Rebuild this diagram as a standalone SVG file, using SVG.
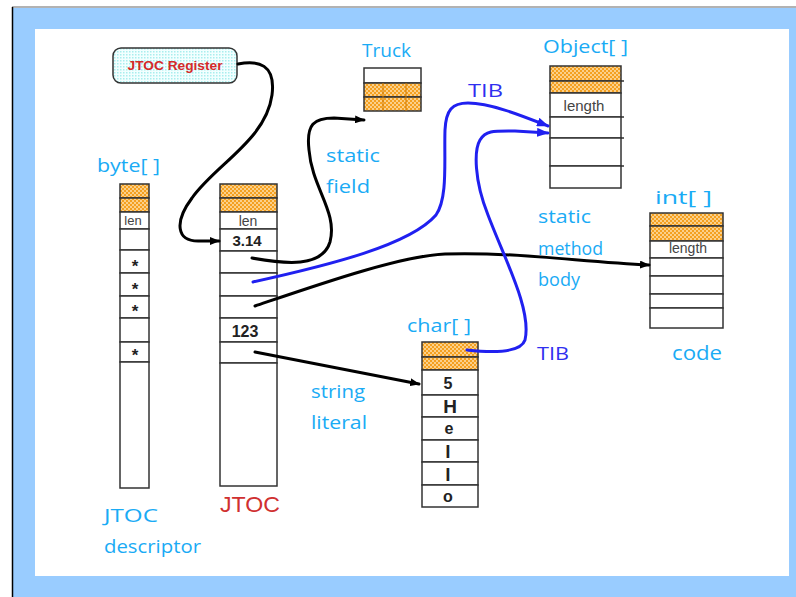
<svg xmlns="http://www.w3.org/2000/svg" width="796" height="597" viewBox="0 0 796 597">
  <style>
    .cell { fill: #fff; stroke: #333; stroke-width: 1.5; }
    .hdr { fill: url(#orangeCheck); stroke: #333; stroke-width: 1.5; }
    .lbl { font-family: "Open Sans", "DejaVu Sans", sans-serif; font-size: 18px; fill: #1aabf5; }
    .tib { font-family: "Open Sans", "DejaVu Sans", sans-serif; font-size: 18px; fill: #2f2ff0; }
    .val { font-family: "Liberation Sans", Arial, sans-serif; font-weight: bold; fill: #222; text-anchor: middle; }
    .small { font-family: "Liberation Sans", Arial, sans-serif; fill: #444; text-anchor: middle; }
    .wire { fill: none; stroke: #000; stroke-width: 3; stroke-linecap: round; stroke-linejoin: round; }
    .bwire { fill: none; stroke: #2020f0; stroke-width: 3; stroke-linecap: round; stroke-linejoin: round; }
  </style>
  <defs>
    <pattern id="orangeCheck" width="4" height="4" patternUnits="userSpaceOnUse">
      <rect width="4" height="4" fill="#f4a020"/>
      <rect width="2" height="2" fill="#fbd08a"/>
      <rect x="2" y="2" width="2" height="2" fill="#fbd08a"/>
    </pattern>
    <pattern id="cyanDots" width="3" height="3" patternUnits="userSpaceOnUse">
      <rect width="3" height="3" fill="#f2ffff"/>
      <rect width="1.5" height="1.5" fill="#a8eeee"/>
    </pattern>
    <marker id="arrowK" markerWidth="10" markerHeight="8" refX="9" refY="4" orient="auto" markerUnits="userSpaceOnUse">
      <path d="M0,0 L10,4 L0,8 Z" fill="#000"/>
    </marker>
    <marker id="arrowB" markerWidth="12" markerHeight="9" refX="11" refY="4.5" orient="auto" markerUnits="userSpaceOnUse">
      <path d="M0,0 L12,4.5 L0,9 Z" fill="#2020f0"/>
    </marker>
  </defs>

  <!-- page frame -->
  <rect x="0" y="0" width="796" height="597" fill="#fff"/>
  <rect x="12" y="8" width="784" height="589" fill="#99ccff"/>
  <line x1="12" y1="7" x2="796" y2="7" stroke="#999" stroke-width="1.5"/>
  <line x1="12.5" y1="7" x2="12.5" y2="597" stroke="#000" stroke-width="1.5"/>
  <rect x="35" y="29" width="754" height="547" fill="#fff"/>

  <!-- JTOC register -->
  <g id="jtoc-register">
    <rect x="113" y="48" width="124" height="35" rx="8" fill="url(#cyanDots)" stroke="#333" stroke-width="1.5"/>
    <text x="175" y="70" font-family="Liberation Sans, Arial, sans-serif" font-weight="bold" font-size="12" fill="#d42a2a" text-anchor="middle" textLength="95" lengthAdjust="spacingAndGlyphs">JTOC Register</text>
  </g>

  <!-- byte[] : JTOC descriptor -->
  <g id="jtoc-descriptor">
    <text class="lbl" x="97" y="172" textLength="63" lengthAdjust="spacingAndGlyphs">byte[ ]</text>
    <rect class="hdr" x="120" y="184" width="29" height="14"/>
    <rect class="hdr" x="120" y="198" width="29" height="14"/>
    <rect class="cell" x="120" y="212" width="29" height="17"/>
    <rect class="cell" x="120" y="229" width="29" height="21"/>
    <rect class="cell" x="120" y="250" width="29" height="23"/>
    <rect class="cell" x="120" y="273" width="29" height="23"/>
    <rect class="cell" x="120" y="296" width="29" height="22"/>
    <rect class="cell" x="120" y="318" width="29" height="24"/>
    <rect class="cell" x="120" y="342" width="29" height="20"/>
    <rect class="cell" x="120" y="362" width="29" height="126"/>
    <text class="small" x="133" y="225" style="font-size:13px">len</text>
    <text class="val" x="135" y="272" style="font-size:17px">*</text>
    <text class="val" x="135" y="295" style="font-size:17px">*</text>
    <text class="val" x="135" y="317" style="font-size:17px">*</text>
    <text class="val" x="135" y="361" style="font-size:17px">*</text>
    <text class="lbl" x="104" y="522" textLength="54" lengthAdjust="spacingAndGlyphs">JTOC</text>
    <text class="lbl" x="104" y="553" textLength="97" lengthAdjust="spacingAndGlyphs">descriptor</text>
  </g>

  <!-- JTOC -->
  <g id="jtoc">
    <rect class="hdr" x="220" y="184" width="57" height="14"/>
    <rect class="hdr" x="220" y="198" width="57" height="14"/>
    <rect class="cell" x="220" y="212" width="57" height="17"/>
    <rect class="cell" x="220" y="229" width="57" height="22"/>
    <rect class="cell" x="220" y="251" width="57" height="22"/>
    <rect class="cell" x="220" y="273" width="57" height="23"/>
    <rect class="cell" x="220" y="296" width="57" height="22"/>
    <rect class="cell" x="220" y="318" width="57" height="24"/>
    <rect class="cell" x="220" y="342" width="57" height="21"/>
    <rect class="cell" x="220" y="363" width="57" height="123"/>
    <text class="small" x="248" y="226" style="font-size:14px">len</text>
    <text class="val" x="247" y="246" style="font-size:15px">3.14</text>
    <text class="val" x="245" y="337" style="font-size:16px">123</text>
    <text x="220" y="512" font-family="Liberation Sans, Arial, sans-serif" font-size="22" fill="#d03030" textLength="60" lengthAdjust="spacingAndGlyphs">JTOC</text>
  </g>

  <!-- Truck class -->
  <g id="truck">
    <text class="lbl" x="362" y="57" textLength="49" lengthAdjust="spacingAndGlyphs">Truck</text>
    <rect class="cell" x="364" y="68" width="57" height="15"/>
    <rect class="hdr" x="364" y="83" width="57" height="14"/>
    <rect class="hdr" x="364" y="97" width="57" height="14"/>
    <line x1="383" y1="83" x2="383" y2="111" stroke="#d07a00" stroke-width="1"/>
    <line x1="406" y1="83" x2="406" y2="111" stroke="#d07a00" stroke-width="1"/>
  </g>

  <!-- Object[] : TIB -->
  <g id="object-array">
    <text class="lbl" x="543" y="53" textLength="85" lengthAdjust="spacingAndGlyphs">Object[ ]</text>
    <rect class="hdr" x="550" y="66" width="71" height="15"/>
    <rect class="hdr" x="550" y="81" width="71" height="12"/>
    <rect class="cell" x="550" y="93" width="71" height="24"/>
    <rect class="cell" x="550" y="117" width="71" height="21"/>
    <rect class="cell" x="550" y="138" width="71" height="28"/>
    <rect class="cell" x="550" y="166" width="71" height="22"/>
    <path d="M621,81 H624 M621,117 H624 M621,138 H624 M621,166 H624" stroke="#333" stroke-width="1.5"/>
    <text class="small" x="584" y="111" style="font-size:15px">length</text>
  </g>

  <!-- int[] : code -->
  <g id="code-array">
    <text class="lbl" x="655" y="204" textLength="57" lengthAdjust="spacingAndGlyphs">int[ ]</text>
    <rect class="hdr" x="650" y="213" width="73" height="13"/>
    <rect class="hdr" x="650" y="226" width="73" height="15"/>
    <rect class="cell" x="650" y="241" width="73" height="17"/>
    <rect class="cell" x="650" y="258" width="73" height="18"/>
    <rect class="cell" x="650" y="276" width="73" height="18"/>
    <rect class="cell" x="650" y="294" width="73" height="14"/>
    <rect class="cell" x="650" y="308" width="73" height="20"/>
    <text class="small" x="688" y="253" style="font-size:14px">length</text>
    <text class="lbl" x="672" y="360" style="font-size:20px" textLength="50" lengthAdjust="spacingAndGlyphs">code</text>
  </g>

  <!-- char[] : "Hello" -->
  <g id="char-array">
    <text class="lbl" x="407" y="332" textLength="64" lengthAdjust="spacingAndGlyphs">char[ ]</text>
    <rect class="hdr" x="422" y="342" width="56" height="15"/>
    <rect class="hdr" x="422" y="357" width="56" height="13"/>
    <rect class="cell" x="422" y="370" width="56" height="25"/>
    <rect class="cell" x="422" y="395" width="56" height="22"/>
    <rect class="cell" x="422" y="417" width="56" height="23"/>
    <rect class="cell" x="422" y="440" width="56" height="22"/>
    <rect class="cell" x="422" y="462" width="56" height="23"/>
    <rect class="cell" x="422" y="485" width="56" height="22"/>
    <text class="val" x="448" y="389" style="font-size:16px">5</text>
    <text class="val" x="450" y="413" style="font-size:19px">H</text>
    <text class="val" x="449" y="434" style="font-size:16px">e</text>
    <text class="val" x="448" y="458" style="font-size:19px">l</text>
    <text class="val" x="448" y="481" style="font-size:19px">l</text>
    <text class="val" x="448" y="502" style="font-size:16px">o</text>
  </g>

  <!-- edge labels -->
  <g id="edge-labels">
    <text class="lbl" x="326" y="162" textLength="54" lengthAdjust="spacingAndGlyphs">static</text>
    <text class="lbl" x="326" y="193" textLength="44" lengthAdjust="spacingAndGlyphs">field</text>
    <text class="lbl" x="538" y="223" textLength="53" lengthAdjust="spacingAndGlyphs">static</text>
    <text class="lbl" x="538" y="255" textLength="65" lengthAdjust="spacingAndGlyphs">method</text>
    <text class="lbl" x="538" y="286" textLength="42" lengthAdjust="spacingAndGlyphs">body</text>
    <text class="lbl" x="311" y="398" textLength="54" lengthAdjust="spacingAndGlyphs">string</text>
    <text class="lbl" x="311" y="429" textLength="56" lengthAdjust="spacingAndGlyphs">literal</text>
    <text class="tib" x="468" y="97" textLength="35" lengthAdjust="spacingAndGlyphs">TIB</text>
    <text class="tib" x="537" y="360" textLength="32" lengthAdjust="spacingAndGlyphs">TIB</text>
  </g>

  <!-- connectors -->
  <g id="connectors">
    <!-- register -> JTOC -->
    <path class="wire" marker-end="url(#arrowK)" d="M238,64 C258,60 276,64 272,95 C266,140 215,165 192,198 C174,222 176,242 200,241 L219,241"/>
    <!-- static field -> Truck -->
    <path class="wire" marker-end="url(#arrowK)" d="M252,258 C285,264 322,268 330,242 C338,212 312,188 309,150 C306,124 314,118 334,118 L364,120"/>
    <!-- static method body -> code -->
    <path class="wire" marker-end="url(#arrowK)" d="M255,306 C320,284 400,256 445,254 C520,252 580,262 649,265"/>
    <!-- string literal -> char[] -->
    <path class="wire" marker-end="url(#arrowK)" d="M255,352 L419,384"/>
    <!-- JTOC TIB -> Object[] -->
    <path class="bwire" marker-end="url(#arrowB)" d="M253,282 C330,265 410,245 436,215 C448,198 444,160 445,130 C446,110 452,103 468,103 C490,103 520,115 548,126"/>
    <!-- char[] TIB -> Object[] -->
    <path class="bwire" marker-end="url(#arrowB)" d="M467,350 C485,352 520,355 525,340 C532,310 505,260 488,215 C474,180 474,150 480,140 C486,130 495,131 515,131 L548,133"/>
  </g>
</svg>
